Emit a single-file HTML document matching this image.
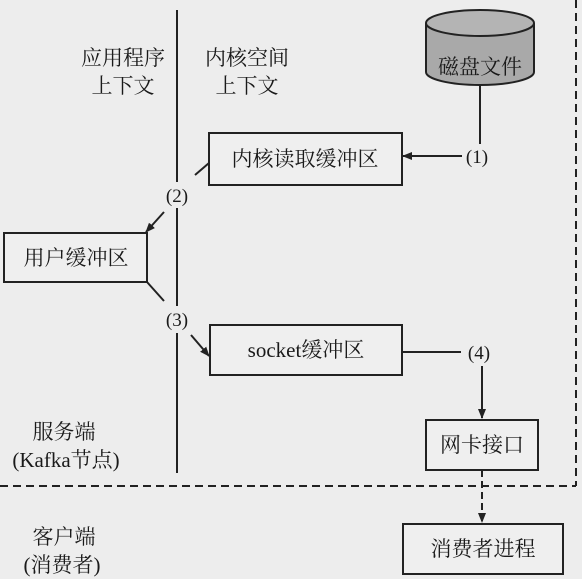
<!DOCTYPE html>
<html><head><meta charset="utf-8"><style>
html,body{margin:0;padding:0;background:#ededed;}
svg{display:block;}
text{font-family:"Liberation Serif","Noto Serif CJK SC",serif;fill:#1a1a1a;}
</style></head><body>
<svg width="582" height="579" viewBox="0 0 582 579" xmlns="http://www.w3.org/2000/svg">
<defs><marker id="a" markerWidth="10" markerHeight="10" refX="9" refY="5" orient="auto" markerUnits="userSpaceOnUse"><path d="M0,1 L10,5 L0,9 Z" fill="#222"/></marker></defs>
<rect width="582" height="579" fill="#ededed"/>
<g stroke="#222" stroke-width="2" fill="none">
<line x1="177" y1="10" x2="177" y2="182"/>
<line x1="177" y1="208" x2="177" y2="306"/>
<line x1="177" y1="333" x2="177" y2="473"/>
<line x1="576" y1="0" x2="576" y2="486" stroke-dasharray="8,5"/>
<line x1="0" y1="486" x2="576" y2="486" stroke-dasharray="8,5"/>
<path d="M426,23 L426,72 A54,13 0 0 0 534,72 L534,23" fill="#a9a9a9"/>
<ellipse cx="480" cy="23" rx="54" ry="13" fill="#b4b4b4"/>
<line x1="480" y1="85" x2="480" y2="144"/>
<rect x="209" y="133" width="193" height="52" fill="#efefef"/>
<line x1="462" y1="156" x2="403" y2="156" marker-end="url(#a)"/>
<line x1="195" y1="175" x2="209" y2="163"/>
<line x1="164" y1="212" x2="146" y2="232" marker-end="url(#a)"/>
<rect x="4" y="233" width="143" height="49" fill="#efefef"/>
<line x1="147" y1="282" x2="164" y2="301"/>
<rect x="210" y="325" width="192" height="50" fill="#efefef"/>
<line x1="191" y1="335" x2="209" y2="356" marker-end="url(#a)"/>
<line x1="402" y1="352" x2="461" y2="352"/>
<line x1="482" y1="366" x2="482" y2="418" marker-end="url(#a)"/>
<rect x="426" y="420" width="112" height="50" fill="#efefef"/>
<line x1="482" y1="470" x2="482" y2="522" stroke-dasharray="7,4" marker-end="url(#a)"/>
<rect x="403" y="524" width="160" height="50" fill="#efefef"/>
</g>
<g font-size="21" text-anchor="middle">
<text x="123" y="65">应用程序</text>
<text x="123" y="93">上下文</text>
<text x="247" y="65">内核空间</text>
<text x="247" y="93">上下文</text>
<text x="480" y="74">磁盘文件</text>
<text x="305" y="166">内核读取缓冲区</text>
<text x="477" y="163" font-size="19">(1)</text>
<text x="177" y="202" font-size="19">(2)</text>
<text x="76" y="265">用户缓冲区</text>
<text x="177" y="326" font-size="19">(3)</text>
<text x="306" y="357">socket缓冲区</text>
<text x="479" y="359" font-size="19">(4)</text>
<text x="482" y="452">网卡接口</text>
<text x="483" y="556">消费者进程</text>
<text x="64" y="439">服务端</text>
<text x="66" y="467">(Kafka节点)</text>
<text x="64" y="544">客户端</text>
<text x="62" y="572">(消费者)</text>
</g>
</svg>
</body></html>
